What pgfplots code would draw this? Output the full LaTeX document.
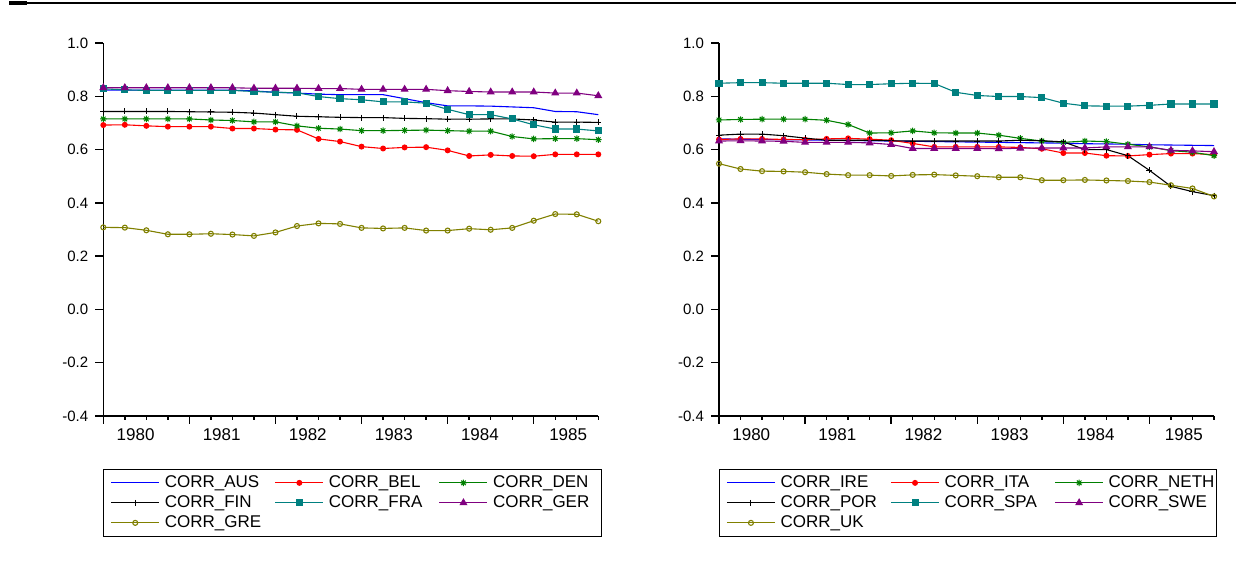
\documentclass[border=0pt]{standalone}
\usepackage{fontspec}
\setmainfont{Liberation Sans}
\usepackage{pgfplots}
\usepackage{pgfplotstable}
\pgfplotsset{compat=1.18}

\definecolor{ebl}{RGB}{0,0,255}
\definecolor{erd}{RGB}{255,0,0}
\definecolor{egr}{RGB}{0,128,0}
\definecolor{etl}{RGB}{0,128,128}
\definecolor{epu}{RGB}{128,0,128}
\definecolor{eol}{RGB}{128,128,0}

% eight-armed asterisk as EViews draws it
\pgfdeclareplotmark{ast8}{%
  \pgfpathmoveto{\pgfqpoint{-\pgfplotmarksize}{0pt}}\pgfpathlineto{\pgfqpoint{\pgfplotmarksize}{0pt}}%
  \pgfpathmoveto{\pgfqpoint{0pt}{-\pgfplotmarksize}}\pgfpathlineto{\pgfqpoint{0pt}{\pgfplotmarksize}}%
  \pgfpathmoveto{\pgfqpoint{-.707\pgfplotmarksize}{-.707\pgfplotmarksize}}\pgfpathlineto{\pgfqpoint{.707\pgfplotmarksize}{.707\pgfplotmarksize}}%
  \pgfpathmoveto{\pgfqpoint{-.707\pgfplotmarksize}{.707\pgfplotmarksize}}\pgfpathlineto{\pgfqpoint{.707\pgfplotmarksize}{-.707\pgfplotmarksize}}%
  \pgfusepathqstroke}

% quarterly data, t=0 is 1980Q1
\pgfplotstableread{
t  aus   bel   den   fin   fra   ger   gre
0  0.823 0.692 0.715 0.743 0.828 0.832 0.308
1  0.823 0.693 0.715 0.743 0.824 0.832 0.307
2  0.823 0.689 0.715 0.743 0.822 0.832 0.297
3  0.823 0.686 0.715 0.743 0.822 0.832 0.282
4  0.823 0.686 0.715 0.742 0.822 0.832 0.282
5  0.823 0.686 0.711 0.741 0.822 0.832 0.284
6  0.823 0.679 0.709 0.740 0.822 0.832 0.281
7  0.820 0.679 0.704 0.737 0.818 0.830 0.276
8  0.815 0.675 0.704 0.731 0.815 0.830 0.289
9  0.812 0.674 0.689 0.725 0.813 0.830 0.313
10 0.808 0.640 0.680 0.723 0.799 0.829 0.323
11 0.806 0.630 0.677 0.721 0.791 0.829 0.321
12 0.806 0.611 0.671 0.720 0.787 0.826 0.306
13 0.806 0.604 0.671 0.720 0.779 0.826 0.304
14 0.791 0.608 0.672 0.717 0.779 0.826 0.306
15 0.776 0.609 0.673 0.716 0.774 0.826 0.296
16 0.764 0.597 0.671 0.714 0.751 0.821 0.296
17 0.764 0.576 0.669 0.714 0.731 0.818 0.303
18 0.763 0.580 0.669 0.715 0.731 0.816 0.299
19 0.760 0.576 0.649 0.715 0.715 0.816 0.306
20 0.757 0.575 0.640 0.711 0.693 0.816 0.333
21 0.743 0.582 0.641 0.703 0.677 0.812 0.358
22 0.742 0.582 0.641 0.703 0.677 0.812 0.357
23 0.731 0.582 0.637 0.702 0.670 0.802 0.331
}\leftdata

\pgfplotstableread{
t  ire   ita   neth  por   spa   swe   uk
0  0.640 0.638 0.711 0.654 0.849 0.632 0.547
1  0.639 0.640 0.713 0.658 0.851 0.633 0.527
2  0.638 0.640 0.714 0.658 0.851 0.632 0.519
3  0.637 0.638 0.714 0.652 0.849 0.631 0.518
4  0.636 0.637 0.714 0.643 0.849 0.627 0.515
5  0.635 0.640 0.710 0.635 0.849 0.627 0.508
6  0.634 0.642 0.694 0.635 0.844 0.627 0.504
7  0.633 0.639 0.662 0.635 0.844 0.625 0.504
8  0.632 0.635 0.663 0.633 0.847 0.619 0.501
9  0.631 0.623 0.670 0.632 0.849 0.604 0.505
10 0.630 0.610 0.663 0.632 0.848 0.604 0.506
11 0.629 0.610 0.662 0.632 0.815 0.604 0.503
12 0.628 0.610 0.662 0.632 0.803 0.604 0.500
13 0.627 0.610 0.654 0.632 0.799 0.603 0.496
14 0.626 0.608 0.642 0.635 0.799 0.605 0.496
15 0.625 0.603 0.632 0.633 0.795 0.606 0.485
16 0.624 0.587 0.627 0.629 0.774 0.606 0.485
17 0.622 0.587 0.632 0.600 0.764 0.606 0.486
18 0.621 0.577 0.630 0.600 0.763 0.610 0.484
19 0.620 0.576 0.620 0.577 0.763 0.610 0.482
20 0.618 0.581 0.610 0.522 0.766 0.610 0.478
21 0.617 0.585 0.596 0.462 0.771 0.597 0.466
22 0.616 0.585 0.590 0.442 0.771 0.595 0.454
23 0.615 0.581 0.577 0.427 0.771 0.592 0.424
}\rightdata

\pgfplotsset{
  eviews/.style={
    scale only axis, width=247.5pt, height=186.5pt,
    xmin=0, xmax=23, ymin=-0.4, ymax=1.0,
    axis x line*=bottom, axis y line*=left,
    axis line style={-, line width=0.8pt},
    tick align=outside, tick pos=left,
    every tick/.style={black, line width=0.7pt},
    major tick length=4pt, minor tick length=2pt,
    xtick={0,4,8,12,16,20}, xticklabels={},
    minor xtick={1,2,3,5,6,7,9,10,11,13,14,15,17,18,19,21,22,23},
    extra x ticks={1.5,5.5,9.5,13.5,17.5,21.6},
    extra x tick labels={1980,1981,1982,1983,1984,1985},
    extra x tick style={major tick length=0pt,
      xticklabel style={font=\fontsize{8.5}{10}\selectfont, yshift=-3pt}},
    ytick={-0.4,-0.2,0,0.2,0.4,0.6,0.8,1.0},
    yticklabels={-0.4,-0.2,0.0,0.2,0.4,0.6,0.8,1.0},
    yticklabel style={font=\fontsize{7.5}{9}\selectfont},
    clip=false,
    every axis plot/.append style={line width=0.55pt, mark options={solid, line width=0.5pt}},
    legend columns=3,
    legend cell align=left,
    legend image code/.code={\draw[mark repeat=2, mark phase=2, ##1]
      plot coordinates {(0pt,0pt) (12pt,0pt) (24pt,0pt)};},
    legend style={at={(0,-0.142)}, anchor=north west,
      font=\fontsize{8.5}{10}\selectfont, inner xsep=3.5pt, inner ysep=2.75pt,
      row sep=2pt,
      /tikz/every odd column/.append style={column sep=2.5pt},
      /tikz/every even column/.append style={column sep=4.5pt},
      nodes={text width=50.5pt, inner sep=0pt, text height=6.2pt, text depth=1.8pt}},
  },
  sAUS/.style={color=ebl, draw=ebl, mark=none},
  sBEL/.style={color=erd, draw=erd, mark=*, mark size=1.2pt, mark options={fill=erd}},
  sDEN/.style={color=egr, draw=egr, mark=ast8, mark size=1.6pt},
  sFIN/.style={color=black, draw=black, mark=+, mark size=1.5pt},
  sFRA/.style={color=etl, draw=etl, mark=square*, mark size=1.5pt, mark options={fill=etl}},
  sGER/.style={color=epu, draw=epu, mark=triangle*, mark size=1.8pt, mark options={fill=epu}},
  sGRE/.style={color=eol, draw=eol, mark=o, mark size=1.25pt, mark options={fill=white}},
}

\begin{document}
\begin{tikzpicture}
\path[use as bounding box] (0pt,0pt) rectangle (618pt,293.5pt);
% header rule of the graph frame
\draw[line width=0.7pt] (4.5pt,292pt) -- (618pt,292pt);
\draw[line width=1.6pt] (4.5pt,292pt) -- (13.5pt,292pt);

\begin{axis}[eviews, at={(51.65pt,85.5pt)}, anchor=south west]
  \addplot[sAUS] table[x=t, y=aus] {\leftdata};
  \addplot[sBEL] table[x=t, y=bel] {\leftdata};
  \addplot[sDEN] table[x=t, y=den] {\leftdata};
  \addplot[sFIN] table[x=t, y=fin] {\leftdata};
  \addplot[sFRA] table[x=t, y=fra] {\leftdata};
  \addplot[sGER] table[x=t, y=ger] {\leftdata};
  \addplot[sGRE] table[x=t, y=gre] {\leftdata};
  \legend{CORR\_AUS, CORR\_BEL, CORR\_DEN, CORR\_FIN, CORR\_FRA, CORR\_GER, CORR\_GRE}
\end{axis}

\begin{axis}[eviews, at={(359.5pt,85.5pt)}, anchor=south west]
  \addplot[sAUS] table[x=t, y=ire] {\rightdata};
  \addplot[sBEL] table[x=t, y=ita] {\rightdata};
  \addplot[sDEN] table[x=t, y=neth] {\rightdata};
  \addplot[sFIN] table[x=t, y=por] {\rightdata};
  \addplot[sFRA] table[x=t, y=spa] {\rightdata};
  \addplot[sGER] table[x=t, y=swe] {\rightdata};
  \addplot[sGRE] table[x=t, y=uk] {\rightdata};
  \legend{CORR\_IRE, CORR\_ITA, CORR\_NETH, CORR\_POR, CORR\_SPA, CORR\_SWE, CORR\_UK}
\end{axis}
\end{tikzpicture}
\end{document}
